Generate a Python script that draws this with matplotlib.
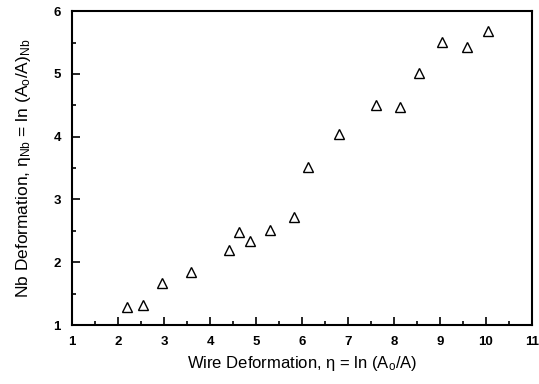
import numpy as np
import matplotlib.pyplot as plt
from matplotlib.ticker import MultipleLocator

plt.rcParams['font.family'] = ['Liberation Sans', 'DejaVu Sans']
plt.rcParams['mathtext.fontset'] = 'custom'
plt.rcParams['mathtext.rm'] = 'Liberation Sans'
plt.rcParams['mathtext.it'] = 'Liberation Sans:italic'

# wire deformation vs Nb filament deformation
wire_eta = [2.19, 2.55, 2.96, 3.59, 4.41, 4.64, 4.88, 5.30, 5.83, 6.14,
            6.81, 7.61, 8.13, 8.55, 9.05, 9.59, 10.05]
nb_eta = [1.28, 1.32, 1.67, 1.84, 2.20, 2.48, 2.34, 2.52, 2.72, 3.52,
          4.04, 4.51, 4.48, 5.02, 5.51, 5.43, 5.68]

fig = plt.figure(figsize=(5.39, 3.84), dpi=100)
ax = fig.add_axes([0.1336, 0.1536, 0.8534, 0.8174])

ax.plot(wire_eta, nb_eta, linestyle='none', marker='^', markersize=7,
        markerfacecolor='white', markeredgecolor='black', markeredgewidth=1.0)

ax.set_xlim(1, 11)
ax.set_ylim(1, 6)
ax.xaxis.set_major_locator(MultipleLocator(1))
ax.xaxis.set_minor_locator(MultipleLocator(0.5))
ax.yaxis.set_major_locator(MultipleLocator(1))
ax.yaxis.set_minor_locator(MultipleLocator(0.5))
ax.tick_params(which='both', direction='in', top=False, right=False, width=1.2)
ax.tick_params(which='major', length=6, labelsize=9.5, pad=8)
ax.tick_params(which='minor', length=3)
for lab in ax.get_xticklabels() + ax.get_yticklabels():
    lab.set_fontweight('bold')
for sp in ax.spines.values():
    sp.set_linewidth(1.5)

ax.set_xlabel(r"Wire Deformation, η = ln (A$_{\mathrm{o}}$/A)", fontsize=12, labelpad=4)
ax.set_ylabel(r"Nb Deformation, η$_{\mathrm{Nb}}$ = ln (A$_{\mathrm{o}}$/A)$_{\mathrm{Nb}}$",
              fontsize=12.5, labelpad=15)

fig.savefig('out.png', dpi=100)
